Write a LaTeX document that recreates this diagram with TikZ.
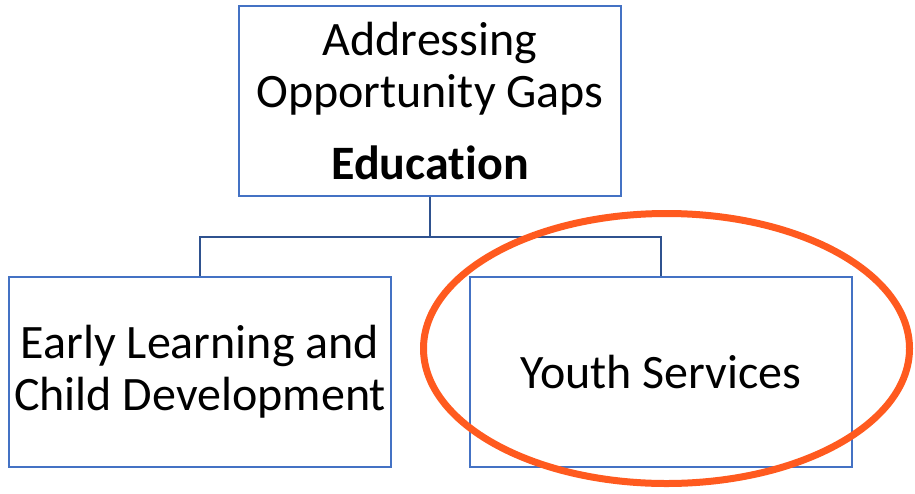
\documentclass[tikz,border=0pt]{standalone}
\usepackage{fontspec}
\setmainfont{Carlito}[Ligatures=NoCommon]
\definecolor{boxblue}{HTML}{4472C4}
\definecolor{linkblue}{HTML}{2F528F}
\definecolor{hiorange}{HTML}{FF5A1F}
\begin{document}
\begin{tikzpicture}[x=1pt,y=-1pt,
  orgbox/.style={draw=boxblue,line width=2pt,fill=white,minimum width=382pt,minimum height=190pt,
    inner sep=0pt,align=center,font=\fontsize{48}{52}\selectfont},
  link/.style={draw=linkblue,line width=2pt}]
\useasboundingbox (0,0) rectangle (915,493);
\node[orgbox] (top) at (430,101) {Addressing\\Opportunity Gaps\\[20pt]\textbf{Education}};
\node[orgbox] (left) at (200,371.5) {Early Learning and\\Child Development};
\node[orgbox] (right) at (661,372) {Youth Services};
\coordinate (mid) at (430,236.5);
\draw[link] (top.south) -- (mid);
\draw[link] (mid) -| (left.north);
\draw[link] (mid) -| (right.north);
\draw[hiorange,line width=7pt] (666.5,348.5) ellipse [x radius=243pt, y radius=135pt];
\end{tikzpicture}
\end{document}
